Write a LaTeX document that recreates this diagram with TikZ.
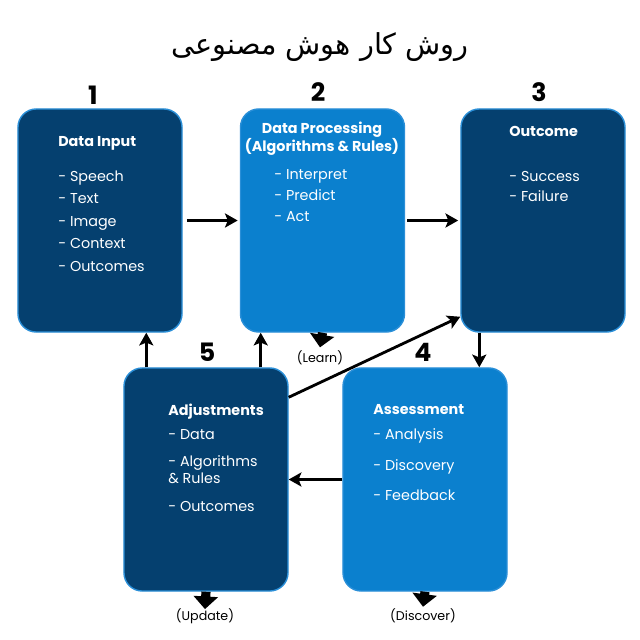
\documentclass[tikz,border=0pt]{standalone}
\usepackage{fontspec}
\setmainfont{Poppins}
\newfontfamily\farsifont[Script=Arabic]{DejaVu Sans}
\TeXXeTstate=1
\usetikzlibrary{positioning, arrows.meta, calc}
\definecolor{aiDark}{HTML}{05406F}
\definecolor{aiLight}{HTML}{0B80CE}
\definecolor{aiEdge}{HTML}{2A8FD8}

\begin{document}
\begin{tikzpicture}[x=0.025cm, y=-0.025cm,
  stage/.style={draw=aiEdge, line width=1pt, rounded corners=13pt,
                minimum width=4.1cm, minimum height=5.575cm, inner sep=0pt},
  txt/.style={text=white, align=left, anchor=north west, inner sep=0pt,
              font=\fontsize{10.2}{12}\selectfont},
  conn/.style={line width=2pt, -{Stealth[length=9pt,width=10pt,inset=2pt]}},
  fat/.style={line width=6.5pt, -{Triangle[length=9pt,width=17pt]}},
  num/.style={font=\fontsize{18}{18}\selectfont\bfseries},
  note/.style={font=\fontsize{9}{9}\selectfont},
]
  \fill[white] (0,0) rectangle (640,640);
  \useasboundingbox (0,0) rectangle (640,640);

  \node[font=\farsifont\fontsize{20.5}{20}\selectfont] (title) at (320,47)
    {\beginR روش کار هوش مصنوعی\endR};

  % the five stages
  \node[stage, fill=aiDark] (b1) at (100,220.5) {};
  \node[stage, fill=aiLight] (b2) at (322.5,220.5) {};
  \node[stage, fill=aiDark] (b3) at (543,220.5) {};
  \node[stage, fill=aiDark] (b5) at (206,479.5) {};
  \node[stage, fill=aiLight] (b4) at (425,479.5) {};

  \node[num] (n1) at (93,95) {1};
  \node[num] (n2) at (318,92) {2};
  \node[num] (n3) at (539,92) {3};
  \node[num] (n4) at (423,352) {4};
  \node[num] (n5) at (207,352) {5};

  \node[txt, font=\fontsize{10.2}{16}\selectfont] (t1) at (58,136) {%
    \textbf{Data Input}\\[8.9pt]
    - Speech\\ - Text\\ - Image\\ - Context\\ - Outcomes};
  \node[text=white, align=center, inner sep=0pt,
        font=\fontsize{10.2}{12.8}\selectfont\bfseries] (h2) at (322,139)
    {Data Processing\\(Algorithms \& Rules)};
  \node[txt, font=\fontsize{10.2}{15}\selectfont] (t2) at (274,169) {%
    - Interpret\\ - Predict\\ - Act};
  \node[txt, font=\fontsize{10.2}{14.2}\selectfont] (t3) at (509,126) {%
    \textbf{Outcome}\\[17.8pt]
    - Success\\ - Failure};
  \node[txt] (t5) at (168,404) {%
    \textbf{Adjustments}\\[5pt]
    - Data\\[7.2pt]
    - Algorithms\\ \& Rules\\[8pt]
    - Outcomes};
  \node[txt] (t4) at (373,404) {%
    \textbf{Assessment}\\[5.8pt]
    - Analysis\\[10pt]
    - Discovery\\[9.3pt]
    - Feedback};

  % connectors
  \draw[conn, shorten <=3pt, shorten >=1.5pt] (b1.east) -- (b2.west);
  \draw[conn, shorten <=1.5pt, shorten >=1.5pt] (b2.east) -- (b3.west);
  \draw[conn] ($(b3.south west)+(19,0)$) coordinate (c34) -- (c34 |- b4.north);
  \draw[conn] (b4.west) -- (b5.east);
  \draw[conn] ($(b5.north west)+(23,0)$) coordinate (c51) -- (c51 |- b1.south);
  \draw[conn] ($(b5.north east)+(-28,0)$) coordinate (c52) -- (c52 |- b2.south);
  \draw[conn] ($(b5.north east)+(0,30)$) -- ($(b3.south west)+(0,-16)$);

  % outputs
  \node[note] (learn) at (320,358) {(Learn)};
  \node[note] (update) at (205,616) {(Update)};
  \node[note] (discover) at (423,616) {(Discover)};
  \draw[fat] (b2.south) -- ([yshift=-1pt]learn.north);
  \draw[fat] (b5.south) -- ([yshift=-4pt]update.north);
  \draw[fat] (b4.south) -- ([yshift=-2pt]discover.north);
\end{tikzpicture}
\end{document}
